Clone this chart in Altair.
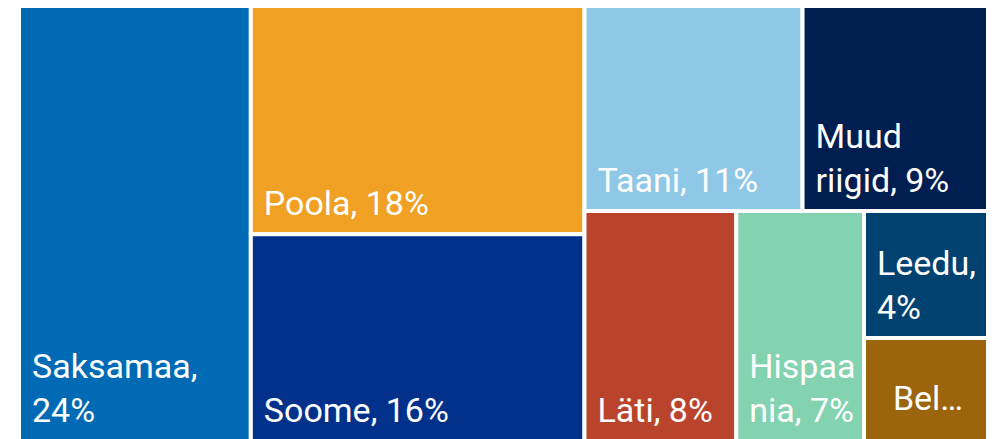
import altair as alt
import pandas as pd

# Data (shares of total, %)
countries = ["Saksamaa", "Poola", "Soome", "Taani", "Muud riigid", "Läti",
             "Hispaania", "Leedu", "Belgia"]
shares = [23.9, 18.2, 16.2, 10.7, 9.1, 8.2, 6.9, 3.7, 3.0]
label_lines = [["Saksamaa,", "24%"], ["Poola, 18%"], ["Soome, 16%"],
               ["Taani, 11%"], ["Muud", "riigid, 9%"], ["Läti, 8%"],
               ["Hispaa", "nia, 7%"], ["Leedu,", "4%"], ["Bel…"]]
colors = ["#006bb4", "#f0a123", "#01318b", "#8fc7e7", "#001e4f",
          "#ba432b", "#83d3b1", "#014270", "#9c640d"]

# Squarified treemap layout (Bruls et al.)
TW, TH = 969.0, 439.0


def worst(row, side):
    s = sum(row)
    return max(max(side * side * r / (s * s), s * s / (side * side * r)) for r in row)


def squarify(vals, x, y, w, h):
    total = sum(vals)
    areas = [v * w * h / total for v in vals]
    rects = []
    i = 0
    while i < len(areas):
        side = min(w, h)
        row = [areas[i]]
        j = i + 1
        while j < len(areas) and worst(row + [areas[j]], side) <= worst(row, side):
            row.append(areas[j])
            j += 1
        s = sum(row)
        if w >= h:
            t = s / h
            yy = y
            for a in row:
                rects.append((x, yy, x + t, yy + a / t))
                yy += a / t
            x += t
            w -= t
        else:
            t = s / w
            xx = x
            for a in row:
                rects.append((xx, y, xx + a / t, y + t))
                xx += a / t
            y += t
            h -= t
        i = j
    return rects


rects = squarify(shares, 0.0, 0.0, TW, TH)
df = pd.DataFrame({
    "country": countries,
    "share": shares,
    "label": label_lines,
    "x0": [r[0] for r in rects],
    "y0": [r[1] for r in rects],
    "x1": [r[2] for r in rects],
    "y1": [r[3] for r in rects],
})
df["xc"] = (df["x0"] + df["x1"]) / 2
df["nlines"] = [len(l) for l in label_lines]

xs = alt.Scale(domain=[-11, 969], nice=False, zero=False)
ys = alt.Scale(domain=[6, 437], nice=False, zero=False, reverse=True)
col = alt.Color("country:N", scale=alt.Scale(domain=countries, range=colors), legend=None)

base = alt.Chart(df)

rect = base.mark_rect(stroke="white", strokeWidth=4).encode(
    x=alt.X("x0:Q", scale=xs, axis=None),
    x2="x1:Q",
    y=alt.Y("y0:Q", scale=ys, axis=None),
    y2="y1:Q",
    color=col,
)

text_style = dict(baseline="alphabetic", font="Roboto", fontSize=34,
                  lineHeight=44, color="white")

txt1 = base.transform_filter(
    (alt.datum.country != "Belgia") & (alt.datum.nlines == 1)
).mark_text(align="left", dx=13, dy=-19, **text_style).encode(
    x=alt.X("x0:Q", scale=xs, axis=None),
    y=alt.Y("y1:Q", scale=ys, axis=None),
    text="label",
)

txt2 = base.transform_filter(alt.datum.nlines == 2).mark_text(
    align="left", dx=13, dy=-63, **text_style
).encode(
    x=alt.X("x0:Q", scale=xs, axis=None),
    y=alt.Y("y1:Q", scale=ys, axis=None),
    text="label",
)

txt_b = base.transform_filter(alt.datum.country == "Belgia").mark_text(
    align="center", dx=2, dy=-31, **text_style
).encode(
    x=alt.X("xc:Q", scale=xs, axis=None),
    y=alt.Y("y1:Q", scale=ys, axis=None),
    text="label",
)

chart = alt.layer(rect, txt1, txt2, txt_b).properties(
    width=980, height=431, padding=0, autosize="none",
).configure_view(stroke=None)

chart.save("out.html", embed_options={"renderer": "svg", "actions": False})
